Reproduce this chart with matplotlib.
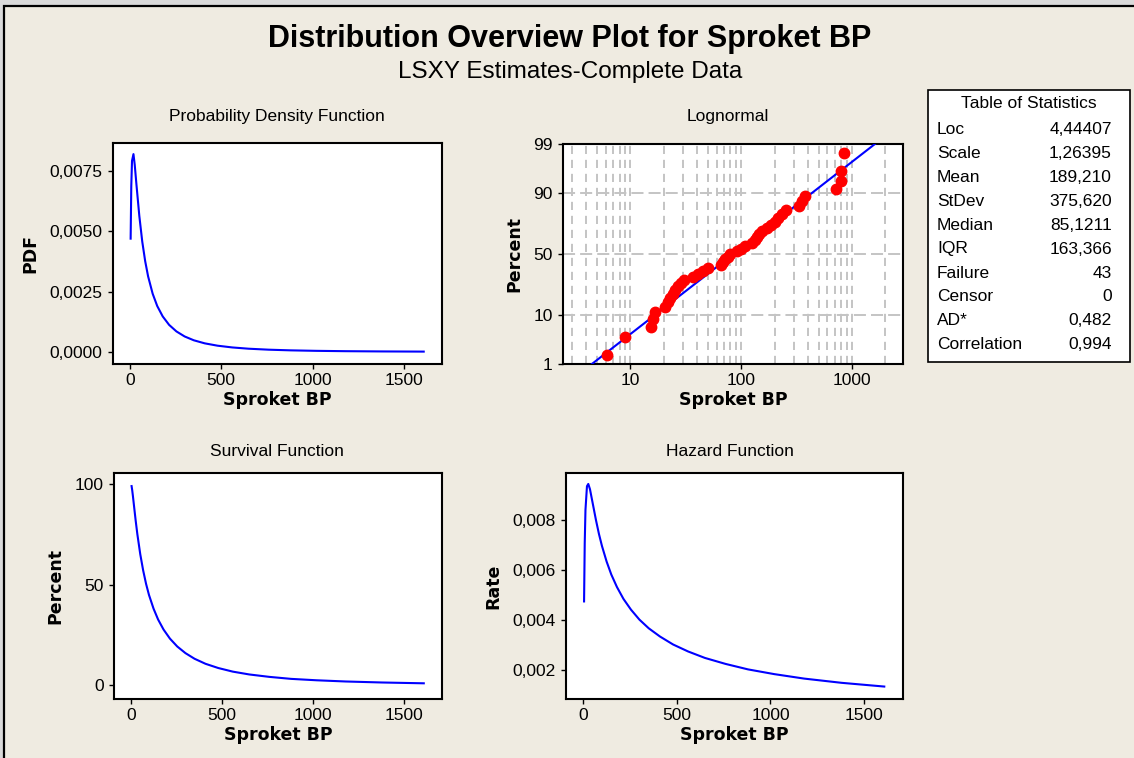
from statistics import NormalDist

import numpy as np
from matplotlib import pyplot as plt
from matplotlib.patches import Rectangle
from matplotlib.ticker import LogLocator, NullFormatter, NullLocator

# values
curve_x = [4.5, 8, 12, 20, 27, 36, 52, 68, 84, 100, 125, 150, 180, 215, 255, 300,
           350, 410, 480, 560, 650, 760, 880, 1020, 1180, 1380, 1608]
pdf_vals = [0.00469, 0.00686, 0.00791, 0.00819, 0.00774, 0.00695, 0.00563, 0.00457,
            0.00376, 0.00313, 0.00241, 0.00190, 0.00147, 0.00112, 0.000849, 0.000640,
            0.000482, 0.000355, 0.000258, 0.000186, 0.000133, 0.0000927, 0.0000650,
            0.0000449, 0.0000307, 0.0000202, 0.0000132]
surv_pct = [99.0, 96.9, 93.9, 87.4, 81.8, 75.2, 65.2, 57.1, 50.4, 44.9, 38.1, 32.7,
            27.7, 23.2, 19.3, 16.0, 13.2, 10.7, 8.6, 6.8, 5.4, 4.2, 3.2, 2.5, 1.9, 1.4, 1.0]
hazard_vals = [0.00474, 0.00707, 0.00842, 0.00937, 0.00946, 0.00925, 0.00863, 0.00801,
               0.00745, 0.00697, 0.00634, 0.00582, 0.00532, 0.00484, 0.00441, 0.00401,
               0.00366, 0.00333, 0.00301, 0.00273, 0.00247, 0.00223, 0.00201, 0.00182,
               0.00164, 0.00147, 0.00132]

# lognormal probability plot
bp_points = [6.2, 9.0, 15.4, 15.9, 16.8, 20.5, 21.8, 23.0, 24.2, 25.5, 27.0, 28.5,
             30.5, 37.0, 41.0, 45.0, 50.0, 66.0, 69.0, 72.0, 76.0, 80.0, 92.0, 100.0,
             108.0, 126.0, 132.0, 138.0, 145.0, 155.0, 170.0, 185.0, 200.0, 215.0,
             232.0, 255.0, 335.0, 355.0, 380.0, 715.0, 795.0, 800.0, 840.0]
bp_pct = [1.61, 3.92, 6.22, 8.53, 10.83, 13.13, 15.44, 17.74, 20.05, 22.35, 24.65,
          26.96, 29.26, 31.57, 33.87, 36.18, 38.48, 40.78, 43.09, 45.39, 47.70, 50.00,
          52.30, 54.61, 56.91, 59.22, 61.52, 63.82, 66.13, 68.43, 70.74, 73.04, 75.35,
          77.65, 79.95, 82.26, 84.56, 86.87, 89.17, 91.47, 93.78, 96.08, 98.39]
fit_x = [4.5, 1608]
fit_pct = [1, 99]

x_ticks = [0, 500, 1000, 1500]
pdf_ticks = [0, 0.0025, 0.005, 0.0075]
pdf_ticklabels = ['0,0000', '0,0025', '0,0050', '0,0075']
surv_ticks = [0, 50, 100]
hz_ticks = [0.002, 0.004, 0.006, 0.008]
hz_ticklabels = ['0,002', '0,004', '0,006', '0,008']
prob_ticks = [1, 10, 50, 90, 99]
log_ticks = [10, 100, 1000]

stat_names = ['Loc', 'Scale', 'Mean', 'StDev', 'Median', 'IQR', 'Failure',
              'Censor', 'AD*', 'Correlation']
stat_values = ['4,44407', '1,26395', '189,210', '375,620', '85,1211', '163,366',
               '43', '0', '0,482', '0,994']

plt.rcParams['font.family'] = ['Liberation Sans', 'DejaVu Sans']

W, H = 1134, 758
BG = '#efebe1'
fig = plt.figure(figsize=(W / 100, H / 100), dpi=100)
fig.patch.set_facecolor('#dadada')
fig.add_artist(Rectangle((4 / W, -0.01), 1.0, 1 - 6 / H + 0.01, transform=fig.transFigure,
                         facecolor=BG, edgecolor='black', lw=1.6, zorder=-5))


def add_ax(x0, y0, x1, y1):
    # pixel box -> figure fraction
    return fig.add_axes([x0 / W, 1 - y1 / H, (x1 - x0) / W, (y1 - y0) / H])


def ftext(x, y, s, **kw):
    fig.text(x / W, 1 - y / H, s, ha=kw.pop('ha', 'center'), va=kw.pop('va', 'center'), **kw)


def style(ax, ylabel):
    for sp in ax.spines.values():
        sp.set_linewidth(1.5)
    ax.tick_params(direction='out', length=3.5, width=1, labelsize=12.5, pad=3)
    ax.tick_params(axis='y', pad=4)
    ax.set_xlabel('Sproket BP', family='DejaVu Sans', weight='bold', fontsize=12.5, labelpad=2)
    ax.set_ylabel(ylabel, family='DejaVu Sans', weight='bold', fontsize=12.5, labelpad=7)


ax_pdf = add_ax(113, 143, 442, 364)
ax_ln = add_ax(563, 144, 903, 364)
ax_sv = add_ax(114, 473, 442, 699)
ax_hz = add_ax(566, 473, 903, 699)

# PDF
ax_pdf.plot(curve_x, pdf_vals, color='blue', lw=1.5)
ax_pdf.set_xlim(-92, 1708)
ax_pdf.set_ylim(-0.0005, 0.00865)
ax_pdf.set_yticks(pdf_ticks, pdf_ticklabels)
ax_pdf.set_xticks(x_ticks)
style(ax_pdf, 'PDF')

# survival
ax_sv.plot(curve_x, surv_pct, color='blue', lw=1.5)
ax_sv.set_xlim(-92, 1708)
ax_sv.set_ylim(-6.8, 105.5)
ax_sv.set_yticks(surv_ticks)
ax_sv.set_xticks(x_ticks)
style(ax_sv, 'Percent')

# hazard
ax_hz.plot(curve_x, hazard_vals, color='blue', lw=1.5)
ax_hz.set_xlim(-92, 1708)
ax_hz.set_ylim(0.00082, 0.0099)
ax_hz.set_yticks(hz_ticks, hz_ticklabels)
ax_hz.set_xticks(x_ticks)
style(ax_hz, 'Rate')

# lognormal probability plot
nd = NormalDist()
p2z = np.vectorize(lambda v: nd.inv_cdf(min(max(v, 1e-4), 100 - 1e-4) / 100), otypes=[float])
z2p = np.vectorize(lambda v: nd.cdf(v) * 100, otypes=[float])
ax_ln.set_xscale('log')
ax_ln.set_yscale('function', functions=(p2z, z2p))
ax_ln.set_xlim(2.47, 2880)
ax_ln.set_ylim(1, 99)
ax_ln.set_xticks(log_ticks, [str(t) for t in log_ticks])
ax_ln.xaxis.set_minor_locator(LogLocator(base=10, subs=range(2, 10)))
ax_ln.xaxis.set_minor_formatter(NullFormatter())
ax_ln.set_yticks(prob_ticks, [str(t) for t in prob_ticks])
ax_ln.yaxis.set_minor_locator(NullLocator())
ax_ln.set_facecolor('white')
ax_ln.xaxis.grid(True, which='both', color='#c4c4c4', lw=1.4, dashes=(4.2, 3.0))
ax_ln.yaxis.grid(True, which='major', color='#c4c4c4', lw=1.4, dashes=(6.2, 2.6))
ax_ln.set_axisbelow(True)
ax_ln.plot(fit_x, fit_pct, color='blue', lw=1.5, zorder=3)
ax_ln.plot(bp_points, bp_pct, 'o', color='red', ms=7.5, mec='red', zorder=4)
style(ax_ln, 'Percent')
ax_ln.tick_params(axis='x', which='minor', length=0)

# titles
ftext(570, 39, 'Distribution Overview Plot for Sproket BP', fontsize=22, weight='bold')
ftext(570, 72, 'LSXY Estimates-Complete Data', fontsize=17.5)
ftext(277, 116, 'Probability Density Function', fontsize=12.5)
ftext(728, 116, 'Lognormal', fontsize=12.5)
ftext(277, 452, 'Survival Function', fontsize=12.5)
ftext(730, 452, 'Hazard Function', fontsize=12.5)

# table of statistics
fig.add_artist(Rectangle((928 / W, 1 - 362 / H), (1130 - 928) / W, (362 - 90) / H,
                         transform=fig.transFigure, facecolor='white', edgecolor='black', lw=1.2))
ftext(1029, 104, 'Table of Statistics', fontsize=12.5)
for i, (name, val) in enumerate(zip(stat_names, stat_values)):
    y = 129 + 24 * i
    ftext(937, y, name, ha='left', fontsize=12.5)
    ftext(1112, y, val, ha='right', fontsize=12.5)

fig.savefig('out.png', dpi=100, facecolor=fig.get_facecolor())
